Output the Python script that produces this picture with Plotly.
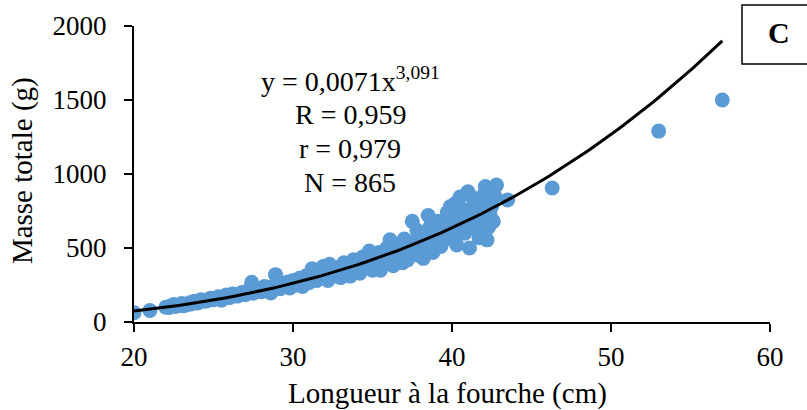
import numpy as np
import plotly.graph_objects as go

length_cm = [
    20.0, 21.0, 22.0, 22.3, 22.5, 22.8, 23.0, 23.3, 23.5, 23.8,
    24.0, 24.2, 24.5, 24.8, 25.0, 25.3, 25.5, 25.8, 26.0, 26.2,
    26.5, 26.8, 27.0, 27.2, 27.4, 27.5, 27.8, 28.0, 28.2, 28.5,
    28.6, 28.9, 29.0, 29.2, 29.5, 29.8, 30.0, 30.2, 30.4, 30.6,
    30.8, 31.0, 31.2, 31.3, 31.5, 31.7, 31.9, 32.0, 32.2, 32.3,
    32.5, 32.7, 32.9, 33.0, 33.2, 33.4, 33.6, 33.8, 34.0, 34.2,
    34.4, 34.6, 34.8, 35.0, 35.2, 35.4, 35.5, 35.7, 35.9, 36.0,
    36.1, 36.3, 36.5, 36.7, 36.9, 37.0, 37.2, 37.3, 37.5, 37.6,
    37.8, 37.9, 38.0, 38.2, 38.4, 38.5, 38.6, 38.8, 39.0, 39.1,
    39.3, 39.5, 39.7, 39.9, 40.0, 40.1, 40.3, 40.5, 40.6, 40.8,
    41.0, 41.1, 41.2, 41.4, 41.5, 41.7, 41.9, 42.0, 42.1, 42.2,
    42.3, 42.5, 42.6, 42.8, 43.5, 46.3, 53.0, 57.0,
    # denser middle of the band
    22.2, 22.6, 23.1, 23.6, 24.1, 24.6, 25.1, 25.6, 26.1, 26.6,
    27.1, 27.6, 28.1, 28.4, 28.8, 29.1, 29.4, 29.7, 30.1, 30.5,
    30.9, 31.1, 31.4, 31.6, 31.8, 32.1, 32.4, 32.6, 32.8, 33.1,
    33.3, 33.5, 33.7, 33.9, 34.1, 34.3, 34.5, 34.7, 34.9, 35.1,
    35.3, 35.6, 35.8, 36.2, 36.4, 36.6, 36.8, 37.1, 37.4, 37.7,
    38.1, 38.3, 38.7, 38.9, 39.2, 39.4, 39.6, 39.8, 40.2, 40.4,
    40.7, 40.9, 41.3, 41.6, 41.8, 42.4, 42.7, 41.3, 40.2, 42.0,
]
mass_g = [
    62, 78, 100, 108, 118, 112, 125, 115, 130, 140,
    128, 150, 140, 160, 150, 170, 148, 182, 165, 190,
    175, 200, 185, 215, 268, 195, 225, 205, 240, 215,
    196, 320, 250, 225, 265, 230, 280, 250, 295, 240,
    310, 265, 360, 300, 280, 330, 375, 300, 280, 390,
    340, 310, 370, 300, 400, 340, 310, 420, 360, 330,
    440, 380, 480, 350, 420, 470, 350, 400, 500, 440,
    555, 380, 470, 520, 400, 560, 420, 470, 680, 520,
    620, 450, 580, 430, 500, 720, 640, 470, 560, 680,
    510, 620, 740, 780, 560, 650, 520, 845, 700, 600,
    880, 500, 760, 650, 820, 570, 700, 860, 915, 555,
    640, 780, 680, 925, 825, 905, 1290, 1500,
    98, 105, 110, 122, 135, 145, 158, 165, 175, 188,
    200, 210, 222, 235, 245, 255, 240, 270, 265, 275,
    290, 320, 330, 305, 345, 350, 325, 360, 335, 355,
    380, 365, 395, 375, 410, 390, 420, 400, 440, 390,
    450, 430, 460, 480, 440, 500, 460, 510, 540, 480,
    540, 600, 560, 620, 600, 560, 660, 600, 700, 620,
    760, 660, 720, 620, 780, 720, 850, 840, 800, 600,
]

# Power trend line shown on the chart: y = 0,0071 x^3,091
coef_a = 0.0071
coef_b = 3.091
fit_x = np.linspace(20, 57, 120)
fit_y = coef_a * fit_x ** coef_b

stats_lines = ["y = 0,0071x<sup>3,091</sup>", "R = 0,959", "r = 0,979", "N = 865"]

serif = "Liberation Serif, Times New Roman, serif"

fig = go.Figure()

fig.add_trace(go.Scatter(
    x=length_cm, y=mass_g,
    mode="markers",
    marker=dict(size=15, color="#5B9BD5"),
    showlegend=False,
))

fig.add_trace(go.Scatter(
    x=fit_x, y=fit_y,
    mode="lines",
    line=dict(color="black", width=3),
    showlegend=False,
))

# equation / stats block
stat_y = [1640, 1400, 1170, 945]
for txt, yy in zip(stats_lines, stat_y):
    fig.add_annotation(
        x=33.6, y=yy, xref="x", yref="y",
        text=txt, showarrow=False,
        font=dict(family=serif, size=28, color="black"),
    )

# axis titles
fig.add_annotation(x=0.493, y=-0.240, xref="paper", yref="paper",
                   xanchor="center", yanchor="middle",
                   text="Longueur à la fourche (cm)",
                   showarrow=False, font=dict(family=serif, size=29))
fig.add_annotation(x=-0.176, y=0.51, xref="paper", yref="paper",
                   xanchor="center", yanchor="middle",
                   text="Masse totale (g)", textangle=-90,
                   showarrow=False, font=dict(family=serif, size=29))

# panel letter box
fig.add_shape(type="rect", xref="paper", yref="paper",
              x0=0.956, x1=1.07, y0=0.872, y1=1.071,
              line=dict(color="black", width=1.5), fillcolor="white")
fig.add_annotation(x=1.014, y=0.977, xref="paper", yref="paper",
                   xanchor="center", yanchor="middle",
                   text="<b>C</b>", showarrow=False,
                   font=dict(family=serif, size=30, color="black"))

fig.update_layout(
    width=807, height=410,
    margin=dict(l=134, r=37, t=26, b=88),
    paper_bgcolor="white", plot_bgcolor="white",
    font=dict(family=serif, color="black"),
    xaxis=dict(
        range=[20, 60], tickvals=[20, 30, 40, 50, 60],
        showgrid=False, zeroline=False, automargin=False,
        showline=True, linecolor="black", linewidth=2,
        ticks="outside", ticklen=8, tickwidth=2, tickcolor="black",
        tickfont=dict(size=27, family=serif), ticklabelstandoff=2,
    ),
    yaxis=dict(
        range=[0, 2000], tickvals=[0, 500, 1000, 1500, 2000],
        showgrid=False, zeroline=False, automargin=False,
        showline=True, linecolor="black", linewidth=2,
        ticks="outside", ticklen=8, tickwidth=2, tickcolor="black",
        tickfont=dict(size=27, family=serif), ticklabelstandoff=12,
    ),
)

fig.write_html("out.html", config={"displayModeBar": False},
               post_script="document.body.style.margin='0';")
